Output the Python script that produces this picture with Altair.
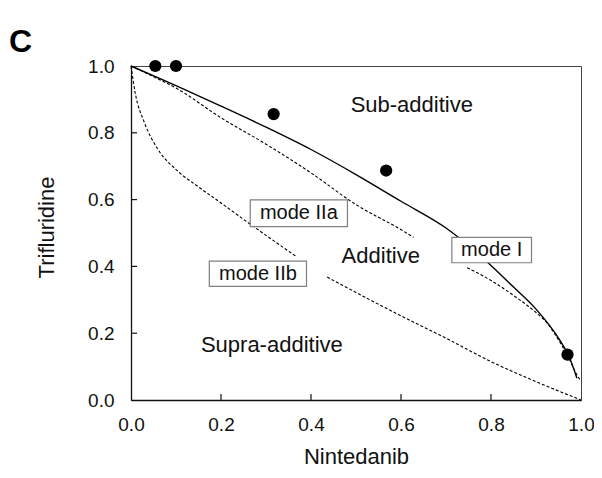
import altair as alt
import pandas as pd

FONT = "Liberation Sans"

# mode I isobole (solid)
solid_x = [0.0, 0.1, 0.2, 0.3, 0.4, 0.5, 0.6, 0.7, 0.8, 0.85, 0.9, 0.95, 0.975, 0.991]
solid_y = [1.0, 0.941, 0.880, 0.817, 0.750, 0.675, 0.595, 0.515, 0.403, 0.338, 0.272, 0.185, 0.125, 0.065]

# mode IIa isobole (upper dashed), two pieces
dash_a1_x = [0.0, 0.05, 0.1, 0.2, 0.3, 0.4, 0.5, 0.6, 0.628]
dash_a1_y = [1.0, 0.968, 0.934, 0.845, 0.766, 0.680, 0.585, 0.510, 0.487]
dash_a2_x = [0.747, 0.8, 0.85, 0.9, 0.925, 0.95, 0.975, 0.991, 0.998]
dash_a2_y = [0.396, 0.358, 0.313, 0.262, 0.230, 0.180, 0.120, 0.075, 0.060]

# mode IIb isobole (lower dashed), two pieces
dash_b1_x = [0.0, 0.01, 0.03, 0.06, 0.1, 0.15, 0.2, 0.25, 0.3, 0.369]
dash_b1_y = [1.0, 0.915, 0.83, 0.75, 0.69, 0.638, 0.590, 0.541, 0.493, 0.428]
dash_b2_x = [0.436, 0.5, 0.6, 0.7, 0.8, 0.9, 1.0]
dash_b2_y = [0.368, 0.322, 0.252, 0.185, 0.115, 0.055, 0.0]

# observed combinations
pts_x = [0.054, 0.1, 0.317, 0.567, 0.970]
pts_y = [1.0, 1.0, 0.856, 0.687, 0.136]

axis_vals = [0.0, 0.2, 0.4, 0.6, 0.8, 1.0]
tick_vals = [0.2, 0.4, 0.6, 0.8]

region_labels = ["Sub-additive", "Additive", "Supra-additive"]
region_x = [0.624, 0.555, 0.313]
region_y = [0.884, 0.430, 0.165]

mode_labels = ["mode IIa", "mode IIb", "mode I"]
mode_x1 = [0.265, 0.174, 0.713]
mode_x2 = [0.481, 0.390, 0.890]
mode_y1 = [0.519, 0.340, 0.411]
mode_y2 = [0.599, 0.416, 0.487]

solid_df = pd.DataFrame({"x": solid_x, "y": solid_y})
dash_df = pd.concat([
    pd.DataFrame({"x": dash_a1_x, "y": dash_a1_y, "seg": "a1"}),
    pd.DataFrame({"x": dash_a2_x, "y": dash_a2_y, "seg": "a2"}),
    pd.DataFrame({"x": dash_b1_x, "y": dash_b1_y, "seg": "b1"}),
    pd.DataFrame({"x": dash_b2_x, "y": dash_b2_y, "seg": "b2"}),
], ignore_index=True)
pts_df = pd.DataFrame({"x": pts_x, "y": pts_y})
tick_df = pd.DataFrame({"x": tick_vals, "y": tick_vals})
region_df = pd.DataFrame({"label": region_labels, "x": region_x, "y": region_y})
mode_df = pd.DataFrame({"label": mode_labels, "x": mode_x1, "x2": mode_x2,
                        "y": mode_y1, "y2": mode_y2})
mode_df["xc"] = (mode_df["x"] + mode_df["x2"]) / 2
mode_df["yc"] = (mode_df["y"] + mode_df["y2"]) / 2

xs = alt.Scale(domain=[0, 1], nice=False, zero=False)
ys = alt.Scale(domain=[0, 1], nice=False, zero=False)

x_axis = alt.Axis(values=axis_vals, format=".1f", title="Nintedanib", ticks=False, tickSize=0,
                  labelPadding=15, labelFlush=False, grid=False, domainColor="#111",
                  domainWidth=1.3, labelFontSize=19, labelColor="#111", labelFont=FONT,
                  titleFont=FONT, titleFontSize=22, titleFontWeight="normal", titleColor="#111",
                  titleX=225, titleY=63, titleBaseline="alphabetic", titleAlign="center")
y_axis = alt.Axis(values=axis_vals, format=".1f", title="Trifluridine", ticks=False, tickSize=0,
                  labelPadding=17, labelFlush=False, grid=False, domainColor="#111",
                  domainWidth=1.3, labelFontSize=19, labelColor="#111", labelFont=FONT,
                  titleFont=FONT, titleFontSize=22, titleFontWeight="normal", titleColor="#111",
                  titleAngle=270, titleX=-78, titleY=161, titleBaseline="alphabetic",
                  titleAlign="center")

X = alt.X("x:Q", scale=xs, axis=x_axis, title="Nintedanib")
Y = alt.Y("y:Q", scale=ys, axis=y_axis, title="Trifluridine")

solid = alt.Chart(solid_df).mark_line(color="black", strokeWidth=1.4, interpolate="monotone").encode(
    x=X, y=Y)
dashed = alt.Chart(dash_df).mark_line(color="black", strokeWidth=1.1, strokeDash=[3, 2],
                                      interpolate="monotone").encode(x=X, y=Y, detail="seg:N")
xticks = alt.Chart(tick_df).mark_rule(color="#111", strokeWidth=1.2).encode(
    x=X, y=alt.value(334), y2=alt.value(328))
yticks = alt.Chart(tick_df).mark_rule(color="#111", strokeWidth=1.2).encode(
    y=Y, x=alt.value(0), x2=alt.value(6))

boxes = alt.Chart(mode_df).mark_rect(fill="white", stroke="#7f7f7f", strokeWidth=1.2).encode(
    x=X, x2="x2:Q", y=Y, y2="y2:Q")
box_text = alt.Chart(mode_df).mark_text(font=FONT, fontSize=20, color="#111",
                                        align="center", baseline="middle").encode(
    x=alt.X("xc:Q", scale=xs, axis=x_axis, title="Nintedanib"),
    y=alt.Y("yc:Q", scale=ys, axis=y_axis, title="Trifluridine"), text="label:N")
region_text = alt.Chart(region_df).mark_text(font=FONT, fontSize=22, color="#111",
                                             align="center", baseline="middle").encode(
    x=X, y=Y, text="label:N")
points = alt.Chart(pts_df).mark_circle(color="black", opacity=1, size=150).encode(x=X, y=Y)
panel = alt.Chart(pd.DataFrame({"t": ["C"]})).mark_text(
    font=FONT, fontSize=32, fontWeight="bold", color="black", align="left",
    baseline="alphabetic").encode(text="t:N", x=alt.value(-122), y=alt.value(-14))

chart = alt.layer(solid, dashed, xticks, yticks, boxes, box_text, region_text, points, panel).properties(
    width=450, height=334,
    padding={"left": 123, "top": 58, "right": 13, "bottom": 70},
    autosize=alt.AutoSizeParams(type="none"),
).configure_view(stroke="#444", strokeWidth=1)

chart.save("out.html", embed_options={"renderer": "svg", "actions": False})
